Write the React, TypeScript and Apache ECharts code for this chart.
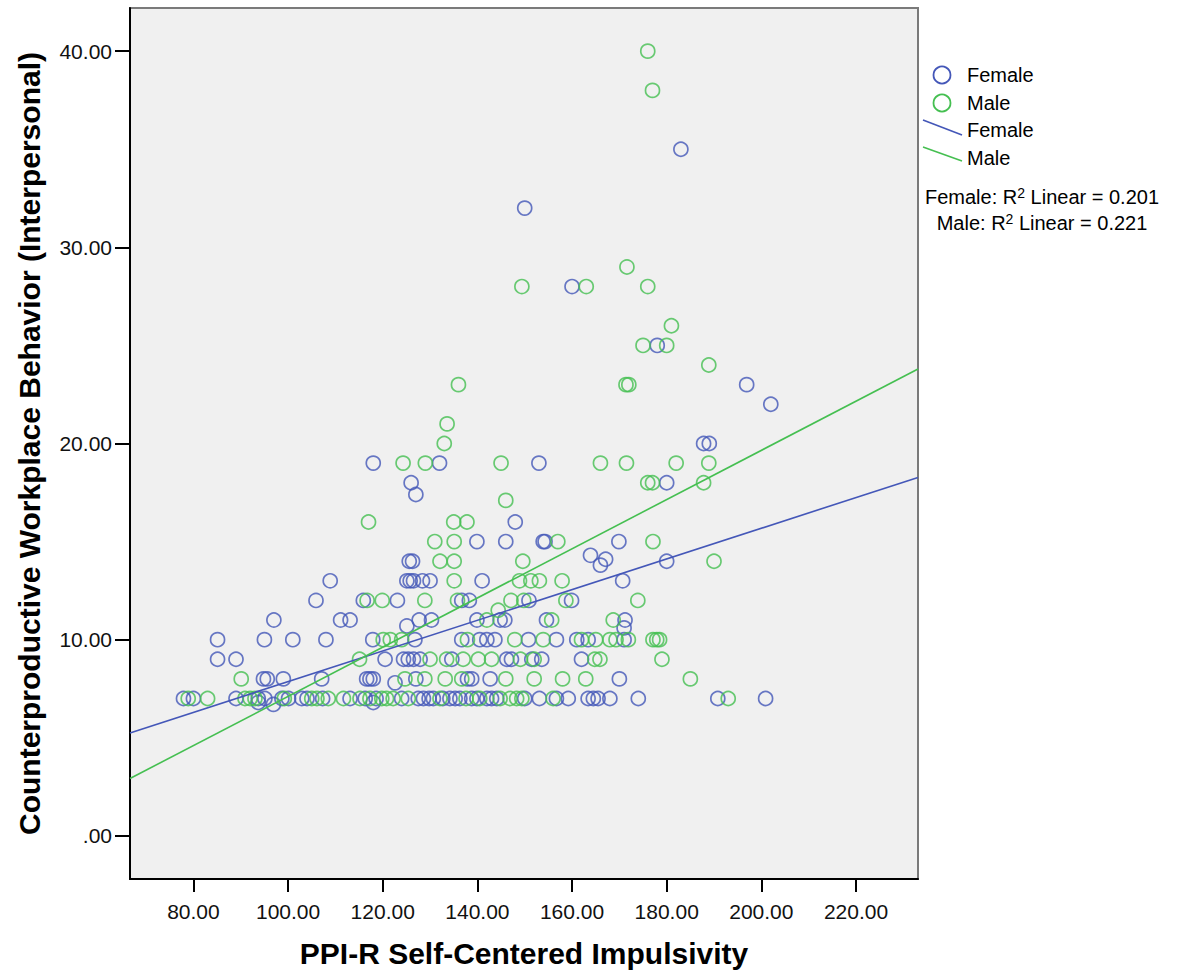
import React, { useEffect, useRef } from "react";
import * as echarts from "echarts";

const groups = ["Female", "Male"];
const rSquared = ["0.201", "0.221"];
const xTicks = [80, 100, 120, 140, 160, 180, 200, 220];
const yTicks = [0, 10, 20, 30, 40];
const xRange = [66.6, 233.1];
const yRange = [-2.2, 42.2];

// [intercept, slope] of the linear fits
const femaleFit = [0.04, 0.0782];
const maleFit = [-5.43, 0.1254];

const femalePoints: [number, number][] = [
  [183, 35], [150, 32], [160, 28], [178, 25], [196.9, 23], [202, 22],
  [187.8, 20], [189, 20],
  [118, 19], [132, 19], [153, 19],
  [126, 18], [180, 18], [127, 17.4], [148, 16],
  [139.9, 15], [146, 15], [153.9, 15], [154.3, 15], [169.9, 15],
  [125.6, 14], [126.3, 14], [163.9, 14.3], [166, 13.8], [167.1, 14.1], [180, 14],
  [108.9, 13], [125.1, 13], [125.8, 13], [126.5, 13], [128.4, 13], [130, 13], [141, 13], [170.7, 13],
  [105.9, 12], [115.9, 12], [123.1, 12], [136.7, 12], [138.3, 12], [150.9, 12], [159.9, 12],
  [97, 11], [111.1, 11], [113.1, 11], [127.7, 11], [130.3, 11], [139.9, 11], [144.8, 11], [145.8, 11], [154.6, 11], [171.2, 11],
  [125.1, 10.7], [171, 10.6],
  [85.1, 10], [95, 10], [101, 10], [108, 10], [117.9, 10], [126.8, 10], [136.7, 10], [140.5, 10], [142, 10], [143.7, 10],
  [150.8, 10], [156.7, 10], [161, 10], [163.4, 10], [171, 10],
  [85.1, 9], [89, 9], [120.5, 9], [124.4, 9], [125.4, 9], [126.5, 9], [127.9, 9], [134.6, 9], [146.2, 9], [147.2, 9],
  [151.5, 9], [153.6, 9], [162, 9],
  [94.8, 8], [95.6, 8], [99, 8], [107.1, 8], [116.6, 8], [117.3, 8], [118, 8], [122.6, 7.8], [127, 8], [137.9, 8],
  [138.8, 8], [142.7, 8], [170, 8],
  [77.9, 7], [80, 7], [89, 7], [93.7, 7], [95.1, 7], [98.7, 7], [100.1, 7], [102.9, 7], [104, 7], [107.3, 7],
  [113.1, 7], [116.3, 7], [118.6, 7], [124, 7], [127.5, 7], [128.6, 7], [129.8, 7], [130.7, 7], [132.7, 7], [134.2, 7],
  [135.3, 7], [136.3, 7], [138.8, 7], [139.9, 7], [142, 7], [143, 7], [144.1, 7], [150, 7], [153.1, 7], [156.7, 7],
  [159.2, 7], [163.4, 7], [164.5, 7], [165.5, 7], [168, 7], [174, 7], [190.8, 7], [200.9, 7],
  [93.7, 6.8], [96.9, 6.7], [118, 6.8],
];

const malePoints: [number, number][] = [
  [176, 40], [177, 38], [149.4, 28], [163, 28], [176, 28], [171.6, 29], [181, 26],
  [175, 25], [180, 25], [188.9, 24], [136, 23], [171.4, 23], [172, 23], [133.6, 21], [133, 20],
  [124.3, 19], [129, 19], [145, 19], [166, 19], [171.5, 19], [182, 19], [188.9, 19],
  [176, 18], [177, 18], [187.8, 18], [146, 17.1],
  [117, 16], [135, 16], [137.8, 16],
  [131, 15], [135.1, 15], [157, 15], [177.1, 15],
  [132.1, 14], [135.1, 14], [149.6, 14], [190, 14],
  [135.1, 13], [148.9, 13], [151.3, 13], [153.1, 13], [157.9, 13],
  [116.7, 12], [119.9, 12], [128.9, 12], [135.8, 12], [147.1, 12], [149.8, 12], [158.7, 12], [173.9, 12],
  [144.4, 11.5], [142, 11], [155.7, 11], [168.7, 11],
  [120.1, 10], [121.6, 10], [124, 10], [137.9, 10], [147.9, 10], [153.9, 10], [162, 10], [165, 10], [168, 10],
  [169.3, 10], [171.9, 10], [177.1, 10], [177.9, 10], [178.5, 10],
  [115.1, 9], [130, 9], [133.5, 9], [137, 9], [140.2, 9], [143, 9], [149.1, 9], [152, 9], [164.8, 9], [165.9, 9], [179, 9],
  [90.1, 8], [124.7, 8], [128.9, 8], [133.2, 8], [136.7, 8], [146, 8], [152, 8], [158, 8], [162.9, 8], [185, 8],
  [78.9, 7], [83, 7], [90.9, 7], [92, 7], [93, 7], [99.2, 7], [105, 7], [106.1, 7], [108.5, 7], [111.7, 7],
  [115.2, 7], [117.3, 7], [119.8, 7], [120.8, 7], [122.2, 7], [125.4, 7], [132.1, 7], [137.6, 7], [140.5, 7],
  [144.8, 7], [146.9, 7], [148.3, 7], [149.4, 7], [156, 7], [193, 7],
];

const colors = ["#4457b8", "#45bf51"];
const FONT = "'Liberation Sans', Arial, sans-serif";

function fitLine(fit: number[]) {
  return [
    [xRange[0], fit[0] + fit[1] * xRange[0]],
    [xRange[1], fit[0] + fit[1] * xRange[1]],
  ];
}

const fmt = (v: number) => (v === 0 ? ".00" : v.toFixed(2));

export default function App() {
  const ref = useRef<HTMLDivElement>(null);
  useEffect(() => {
    if (!ref.current) return;
    const chart = echarts.init(ref.current, null, { renderer: "svg" });
    const scatterStyle = (c: string) => ({
      color: "rgba(0,0,0,0)",
      borderColor: c,
      borderWidth: 1.7,
    });
    const legendText = (x: number, y: number, t: string) => ({
      type: "text", x, y,
      style: { text: t, fontSize: 20, fontFamily: FONT, fill: "#000", align: "left", verticalAlign: "middle", textAlign: "left", textVerticalAlign: "middle" },
    });
    const r2Text = (y: number, i: number) => ({
      type: "text", x: 1042, y,
      style: {
        text: groups[i] + ": R{sup|2} Linear = " + rSquared[i],
        fontSize: 20, fontFamily: FONT, fill: "#000",
        align: "center", verticalAlign: "middle", textAlign: "center", textVerticalAlign: "middle",
        rich: { sup: { fontSize: 14, fontFamily: FONT, fill: "#000", verticalAlign: "top", padding: [0, 0, 9, 0] } },
      },
    });
    chart.setOption({
      animation: false,
      backgroundColor: "#ffffff",
      grid: {
        left: 130,
        top: 8,
        width: 788,
        height: 872,
        show: true,
        backgroundColor: "#f0f0f0",
        borderColor: "#7a7a7a",
        borderWidth: 2,
      },
      xAxis: {
        type: "value",
        min: xRange[0],
        max: xRange[1],
        name: "PPI-R Self-Centered Impulsivity",
        nameLocation: "middle",
        nameGap: 59,
        nameTextStyle: { fontSize: 30, fontWeight: "bold", fontFamily: FONT, color: "#000" },
        splitLine: { show: false },
        axisLine: { show: true, onZero: false, lineStyle: { color: "#000", width: 2 } },
        axisTick: { show: true, length: 13, customValues: xTicks, lineStyle: { color: "#000", width: 2 } },
        axisLabel: {
          customValues: xTicks,
          formatter: fmt,
          fontSize: 21,
          fontFamily: FONT,
          color: "#111",
          margin: 22,
        },
      },
      yAxis: {
        type: "value",
        min: yRange[0],
        max: yRange[1],
        name: "Counterproductive Workplace Behavior (Interpersonal)",
        nameLocation: "middle",
        nameGap: 86,
        nameTextStyle: { fontSize: 30, fontWeight: "bold", fontFamily: FONT, color: "#000" },
        splitLine: { show: false },
        axisLine: { show: true, onZero: false, lineStyle: { color: "#000", width: 2 } },
        axisTick: { show: true, length: 15, customValues: yTicks, lineStyle: { color: "#000", width: 2 } },
        axisLabel: {
          customValues: yTicks,
          formatter: fmt,
          fontSize: 21,
          fontFamily: FONT,
          color: "#111",
          margin: 18,
        },
      },
      series: [
        { name: groups[0], type: "scatter", symbol: "circle", symbolSize: 14, itemStyle: scatterStyle(colors[0]), data: femalePoints },
        { name: groups[1], type: "scatter", symbol: "circle", symbolSize: 14, itemStyle: scatterStyle(colors[1]), data: malePoints },
        { name: groups[0] + " fit", type: "line", showSymbol: false, symbol: "none", lineStyle: { color: colors[0], width: 1.6 }, data: fitLine(femaleFit), z: 5 },
        { name: groups[1] + " fit", type: "line", showSymbol: false, symbol: "none", lineStyle: { color: colors[1], width: 1.6 }, data: fitLine(maleFit), z: 5 },
      ],
      graphic: [
        { type: "circle", shape: { cx: 942, cy: 75, r: 8.5 }, style: { fill: "none", stroke: colors[0], lineWidth: 1.8 } },
        legendText(967, 75, groups[0]),
        { type: "circle", shape: { cx: 942, cy: 103, r: 8.5 }, style: { fill: "none", stroke: colors[1], lineWidth: 1.8 } },
        legendText(967, 103, groups[1]),
        { type: "line", shape: { x1: 923, y1: 120, x2: 962, y2: 135 }, style: { stroke: colors[0], lineWidth: 1.6 } },
        legendText(967, 130, groups[0]),
        { type: "line", shape: { x1: 923, y1: 147, x2: 962, y2: 161 }, style: { stroke: colors[1], lineWidth: 1.6 } },
        legendText(967, 158, groups[1]),
        r2Text(197, 0),
        r2Text(223, 1),
      ],
    });
    return () => chart.dispose();
  }, []);
  return (
    <div
      ref={ref}
      style={{ position: "absolute", left: 0, top: 0, width: 1180, height: 973, background: "#fff" }}
    />
  );
}
